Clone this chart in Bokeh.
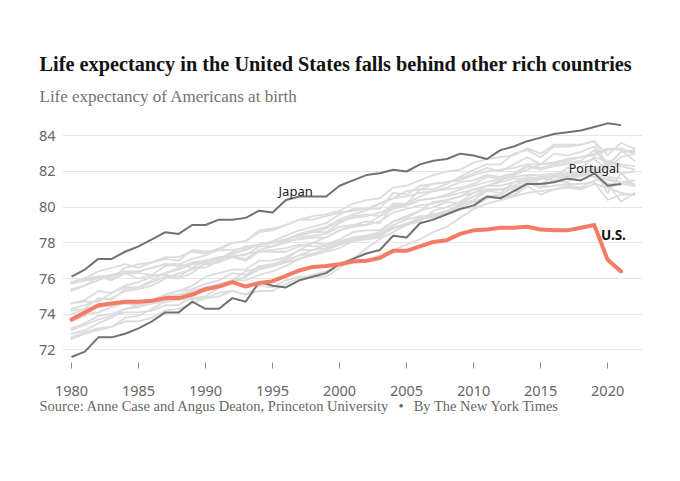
from bokeh.plotting import figure
from bokeh.models import Label, Range1d, FixedTicker, Title
from bokeh.embed import file_html
from bokeh.resources import INLINE

YEARS = list(range(1980, 2023))
X_TICKS = [1980, 1985, 1990, 1995, 2000, 2005, 2010, 2015, 2020]
Y_TICKS = [72, 74, 76, 78, 80, 82, 84]

US = [73.7, 74.1, 74.5, 74.6, 74.7, 74.7, 74.75, 74.9, 74.9, 75.1,
      75.4, 75.55, 75.8, 75.55, 75.75, 75.85, 76.15, 76.45, 76.65, 76.7,
      76.8, 76.95, 77.0, 77.15, 77.55, 77.55, 77.8, 78.05, 78.15, 78.5,
      78.7, 78.75, 78.85, 78.85, 78.9, 78.75, 78.7, 78.7, 78.85, 79.0,
      77.05, 76.4]

JAPAN = [76.1, 76.5, 77.1, 77.1, 77.5, 77.8, 78.2, 78.6, 78.5, 79.0,
         79.0, 79.3, 79.3, 79.4, 79.8, 79.7, 80.4, 80.6, 80.6, 80.6,
         81.2, 81.5, 81.8, 81.9, 82.1, 82.0, 82.4, 82.6, 82.7, 83.0,
         82.9, 82.7, 83.2, 83.4, 83.7, 83.9, 84.1, 84.2, 84.3, 84.5,
         84.7, 84.6]

PORTUGAL = [71.6, 71.9, 72.7, 72.7, 72.9, 73.2, 73.6, 74.1, 74.1, 74.7,
            74.3, 74.3, 74.9, 74.7, 75.8, 75.6, 75.5, 75.9, 76.1, 76.3,
            76.8, 77.1, 77.4, 77.6, 78.4, 78.3, 79.1, 79.3, 79.6, 79.9,
            80.1, 80.6, 80.5, 80.9, 81.3, 81.3, 81.4, 81.6, 81.5, 81.9,
            81.2, 81.3]

SWITZERLAND = [75.7, 75.9, 76.1, 76.0, 76.6, 76.8, 76.9, 77.2, 77.2, 77.5,
               77.4, 77.7, 78.0, 78.1, 78.6, 78.7, 79.0, 79.3, 79.5, 79.6,
               79.8, 80.2, 80.4, 80.5, 81.1, 81.2, 81.5, 81.8, 82.0, 82.1,
               82.5, 82.7, 82.8, 82.9, 83.3, 83.0, 83.5, 83.5, 83.5, 83.7,
               82.9, 83.6, 83.3]
SWEDEN = [75.8, 76.0, 76.4, 76.6, 76.8, 76.6, 76.9, 77.1, 77.0, 77.6,
          77.5, 77.6, 78.0, 78.1, 78.7, 78.8, 79.0, 79.3, 79.3, 79.5,
          79.7, 79.8, 79.9, 80.2, 80.5, 80.6, 80.8, 80.9, 81.1, 81.4,
          81.5, 81.8, 81.7, 81.9, 82.3, 82.2, 82.4, 82.5, 82.6, 83.2,
          82.4, 83.1, 83.1]
NORWAY = [75.8, 75.9, 76.0, 76.1, 76.3, 76.0, 76.2, 76.2, 76.1, 76.6,
          76.6, 77.0, 77.3, 77.3, 77.8, 77.8, 78.1, 78.2, 78.3, 78.3,
          78.7, 79.0, 79.0, 79.5, 79.9, 80.1, 80.4, 80.5, 80.6, 80.8,
          81.0, 81.2, 81.5, 81.8, 82.1, 82.4, 82.5, 82.7, 82.8, 83.0,
          83.3, 83.2, 82.6]
NETHERLANDS = [75.8, 76.0, 76.1, 76.2, 76.3, 76.3, 76.2, 76.7, 76.8, 76.6,
               77.0, 77.2, 77.2, 77.0, 77.5, 77.5, 77.5, 77.8, 78.0, 77.9,
               78.1, 78.3, 78.4, 78.6, 79.2, 79.5, 79.8, 80.3, 80.4, 80.6,
               80.8, 81.2, 81.2, 81.4, 81.7, 81.6, 81.7, 81.8, 81.9, 82.2,
               81.5, 81.4, 81.5]
CANADA = [75.3, 75.6, 75.9, 76.2, 76.4, 76.4, 76.6, 76.8, 76.8, 77.1,
          77.3, 77.6, 77.6, 77.7, 77.9, 78.0, 78.2, 78.4, 78.6, 78.8,
          79.2, 79.4, 79.5, 79.7, 80.0, 80.1, 80.4, 80.5, 80.7, 81.0,
          81.2, 81.4, 81.6, 81.7, 81.8, 81.8, 81.9, 81.9, 82.0, 82.2,
          81.7, 81.6]
SPAIN = [75.4, 75.6, 76.1, 75.9, 76.3, 76.4, 76.6, 76.8, 76.7, 76.8,
         76.9, 77.0, 77.4, 77.6, 77.9, 78.0, 78.1, 78.5, 78.6, 78.6,
         79.1, 79.5, 79.6, 79.5, 80.2, 80.2, 81.0, 81.0, 81.3, 81.7,
         82.1, 82.4, 82.4, 83.0, 83.2, 82.8, 83.4, 83.4, 83.5, 83.7,
         82.3, 83.1, 83.2]
AUSTRALIA = [74.6, 74.7, 74.7, 75.2, 75.5, 75.5, 75.8, 76.1, 76.0, 76.3,
             76.9, 77.1, 77.5, 77.8, 77.9, 78.0, 78.2, 78.5, 78.7, 78.9,
             79.3, 79.6, 79.8, 80.2, 80.5, 80.9, 81.0, 81.3, 81.4, 81.5,
             81.8, 82.0, 82.1, 82.2, 82.4, 82.4, 82.5, 82.6, 82.8, 82.9,
             83.2, 83.3, 83.0]
FRANCE = [74.3, 74.5, 74.8, 74.9, 75.3, 75.4, 75.6, 76.0, 76.3, 76.5,
          76.8, 76.9, 77.2, 77.1, 77.6, 77.8, 78.0, 78.3, 78.4, 78.5,
          78.9, 79.0, 79.2, 79.1, 80.1, 80.2, 80.6, 80.9, 81.0, 81.1,
          81.3, 81.7, 81.6, 81.8, 82.3, 82.1, 82.3, 82.4, 82.5, 82.7,
          82.1, 82.4, 82.3]
ITALY = [74.0, 74.3, 74.9, 74.8, 75.4, 75.5, 75.9, 76.3, 76.5, 76.8,
         77.0, 77.1, 77.4, 77.6, 77.9, 78.1, 78.4, 78.7, 78.9, 79.1,
         79.6, 79.9, 79.9, 79.9, 80.8, 80.7, 81.2, 81.3, 81.4, 81.6,
         81.9, 82.2, 82.0, 82.4, 82.8, 82.4, 83.0, 82.9, 83.1, 83.4,
         82.2, 82.8, 83.0]
GREECE = [74.6, 74.8, 75.3, 75.2, 75.6, 75.8, 76.1, 76.3, 76.6, 76.9,
          77.0, 77.1, 77.2, 77.4, 77.5, 77.6, 77.7, 77.9, 77.8, 77.8,
          78.0, 78.2, 78.4, 78.5, 79.0, 79.3, 79.5, 79.5, 79.8, 80.2,
          80.6, 80.9, 80.8, 81.4, 81.5, 81.1, 81.5, 81.4, 81.9, 81.7,
          81.3, 80.3, 80.8]
UK = [73.7, 74.0, 74.1, 74.4, 74.6, 74.6, 74.8, 75.1, 75.3, 75.4,
      75.7, 75.9, 76.3, 76.2, 76.7, 76.8, 77.0, 77.3, 77.4, 77.6,
      77.9, 78.2, 78.3, 78.4, 78.8, 79.1, 79.4, 79.6, 79.7, 80.1,
      80.4, 80.9, 81.0, 81.0, 81.4, 81.1, 81.2, 81.3, 81.3, 81.4,
      80.4, 80.7, 80.7]
FINLAND = [73.6, 73.9, 74.5, 74.5, 74.6, 74.5, 74.6, 74.7, 74.8, 74.9,
           75.0, 75.5, 75.8, 76.1, 76.6, 76.7, 76.9, 77.1, 77.3, 77.5,
           77.7, 78.1, 78.3, 78.4, 78.8, 79.0, 79.4, 79.4, 79.7, 79.9,
           80.0, 80.6, 80.7, 81.1, 81.3, 81.6, 81.5, 81.7, 81.8, 82.0,
           82.2, 81.9, 81.2]
DENMARK = [74.2, 74.3, 74.4, 74.5, 74.6, 74.5, 74.6, 74.8, 74.9, 74.8,
           74.9, 75.2, 75.3, 75.1, 75.3, 75.3, 75.7, 76.0, 76.2, 76.4,
           76.8, 77.0, 77.0, 77.3, 77.6, 77.9, 78.2, 78.6, 78.9, 79.4,
           79.9, 80.2, 80.4, 80.6, 80.8, 80.9, 81.0, 81.2, 81.1, 81.5,
           81.6, 81.4, 81.3]
BELGIUM = [73.2, 73.5, 73.9, 74.0, 74.3, 74.5, 74.7, 75.1, 75.3, 75.6,
           76.1, 76.3, 76.5, 76.5, 77.0, 77.0, 77.2, 77.6, 77.6, 77.7,
           77.9, 78.1, 78.2, 78.3, 78.9, 79.0, 79.4, 79.6, 79.6, 80.0,
           80.3, 80.6, 80.5, 80.7, 81.4, 81.1, 81.5, 81.6, 81.7, 82.1,
           80.8, 81.9, 82.0]
AUSTRIA = [72.6, 72.9, 73.1, 73.3, 73.8, 73.9, 74.3, 74.7, 75.1, 75.3,
           75.5, 75.7, 75.9, 76.1, 76.5, 76.7, 77.0, 77.3, 77.6, 77.9,
           78.2, 78.6, 78.7, 78.7, 79.2, 79.4, 79.8, 80.0, 80.3, 80.2,
           80.6, 81.0, 81.0, 81.2, 81.6, 81.3, 81.7, 81.7, 81.8, 82.0,
           81.3, 81.3, 81.2]
GERMANY = [72.9, 73.1, 73.5, 73.8, 74.3, 74.4, 74.6, 75.0, 75.1, 75.2,
           75.3, 75.6, 75.9, 75.9, 76.2, 76.4, 76.7, 77.1, 77.4, 77.6,
           77.9, 78.3, 78.3, 78.4, 78.9, 79.0, 79.3, 79.6, 79.8, 79.9,
           80.0, 80.5, 80.6, 80.6, 81.2, 80.7, 81.0, 81.1, 81.0, 81.3,
           81.1, 80.8, 80.7]
IRELAND = [72.7, 73.0, 73.2, 73.3, 73.6, 73.6, 73.8, 74.2, 74.3, 74.6,
           74.9, 75.0, 75.3, 75.1, 75.6, 75.5, 75.9, 76.1, 76.1, 76.1,
           76.6, 77.1, 77.7, 78.2, 78.6, 79.0, 79.2, 79.8, 80.0, 80.3,
           80.8, 81.0, 81.0, 81.2, 81.5, 81.6, 81.7, 82.2, 82.2, 82.8,
           82.6, 82.4]
NEW_ZEALAND = [73.1, 73.4, 73.7, 73.9, 74.1, 74.1, 74.2, 74.5, 74.5, 75.0,
               75.4, 75.7, 75.9, 76.4, 76.6, 76.8, 77.1, 77.6, 78.0, 78.3,
               78.7, 78.9, 79.0, 79.2, 79.7, 79.9, 80.1, 80.2, 80.4, 80.6,
               81.0, 81.2, 81.4, 81.6, 81.6, 81.7, 81.8, 81.9, 81.9, 82.1,
               82.5, 82.3, 82.1]

OTHERS = [SWITZERLAND, SWEDEN, NORWAY, NETHERLANDS, CANADA, SPAIN, AUSTRALIA,
          FRANCE, ITALY, GREECE, UK, FINLAND, DENMARK, BELGIUM, AUSTRIA,
          GERMANY, IRELAND, NEW_ZEALAND]

TITLE = "Life expectancy in the United States falls behind other rich countries"
SUBTITLE = "Life expectancy of Americans at birth"
SOURCE = ("Source: Anne Case and Angus Deaton, Princeton University"
          "\u2002\u2009\u2022\u2002\u2009By The New York Times")

# ---------------- styling ----------------
GRAY_LIGHT = "#dcdcdc"
GRAY_DARK = "#727272"
US_COLOR = "#f47c66"
SANS = "Noto Sans"
SERIF = "Liberation Serif"

p = figure(width=672, height=448, output_backend="svg", toolbar_location=None,
           x_range=Range1d(1979.33, 2022.6), y_range=Range1d(71.29, 85.14),
           min_border_left=62, min_border_right=30, min_border_top=115,
           min_border_bottom=86,
           title=TITLE, title_location="above")
p.outline_line_color = None
p.background_fill_color = "white"
p.border_fill_color = "white"

p.title.text_font = SERIF
p.title.text_font_size = "20.3px"
p.title.text_font_style = "bold"
p.title.text_color = "#121212"
p.title.align = "left"
p.title.offset = -23
p.title.standoff = 1

p.add_layout(Title(text=SUBTITLE, text_font=SERIF, text_font_size="17px",
                   text_font_style="normal", text_color="#727272",
                   align="left", offset=-23, standoff=19), "above")
p.add_layout(Title(text=SOURCE, text_font=SERIF, text_font_size="14.5px",
                   text_font_style="normal", text_color="#666666",
                   align="left", offset=-23, standoff=-5), "below")

# axes
p.xaxis.ticker = FixedTicker(ticks=X_TICKS)
p.xaxis.axis_line_color = None
p.xaxis.major_tick_line_color = "#888888"
p.xaxis.major_tick_in = 0
p.xaxis.major_tick_out = 6
p.xaxis.minor_tick_line_color = None
p.xaxis.major_label_standoff = 17
p.xaxis.major_label_text_font = SANS
p.xaxis.major_label_text_font_size = "14.5px"
p.xaxis.major_label_text_color = "#666666"

p.yaxis.ticker = FixedTicker(ticks=Y_TICKS)
p.yaxis.axis_line_color = None
p.yaxis.major_tick_line_color = None
p.yaxis.minor_tick_line_color = None
p.yaxis.major_tick_in = 0
p.yaxis.major_tick_out = 0
p.yaxis.major_label_standoff = 7
p.yaxis.major_label_text_font = SANS
p.yaxis.major_label_text_font_size = "14.5px"
p.yaxis.major_label_text_color = "#666666"

p.xgrid.grid_line_color = None
p.ygrid.grid_line_color = "#e6e6e6"
p.ygrid.grid_line_width = 1

# lines
for series in OTHERS:
    p.line(YEARS[:len(series)], series, line_color=GRAY_LIGHT, line_width=1.8,
           line_join="round", line_cap="round")
p.line(YEARS[:len(PORTUGAL)], PORTUGAL, line_color=GRAY_DARK, line_width=2,
       line_join="round")
p.line(YEARS[:len(JAPAN)], JAPAN, line_color=GRAY_DARK, line_width=2,
       line_join="round")
p.line(YEARS[:len(US)], US, line_color=US_COLOR, line_width=4,
       line_join="round", line_cap="round")

# line labels
p.add_layout(Label(x=1995.45, y=80.93, text="Japan", text_font=SANS,
                   text_font_size="13px", text_color="#222222",
                   text_baseline="alphabetic"))
p.add_layout(Label(x=2017.1, y=82.17, text="Portugal", text_font=SANS,
                   text_font_size="12.5px", text_color="#222222",
                   text_baseline="alphabetic"))
p.add_layout(Label(x=2019.5, y=78.46, text="U.S.", text_font=SANS,
                   text_font_size="13.5px", text_font_style="bold",
                   text_color="#121212", text_baseline="alphabetic"))

open("out.html", "w").write(file_html(p, INLINE))
